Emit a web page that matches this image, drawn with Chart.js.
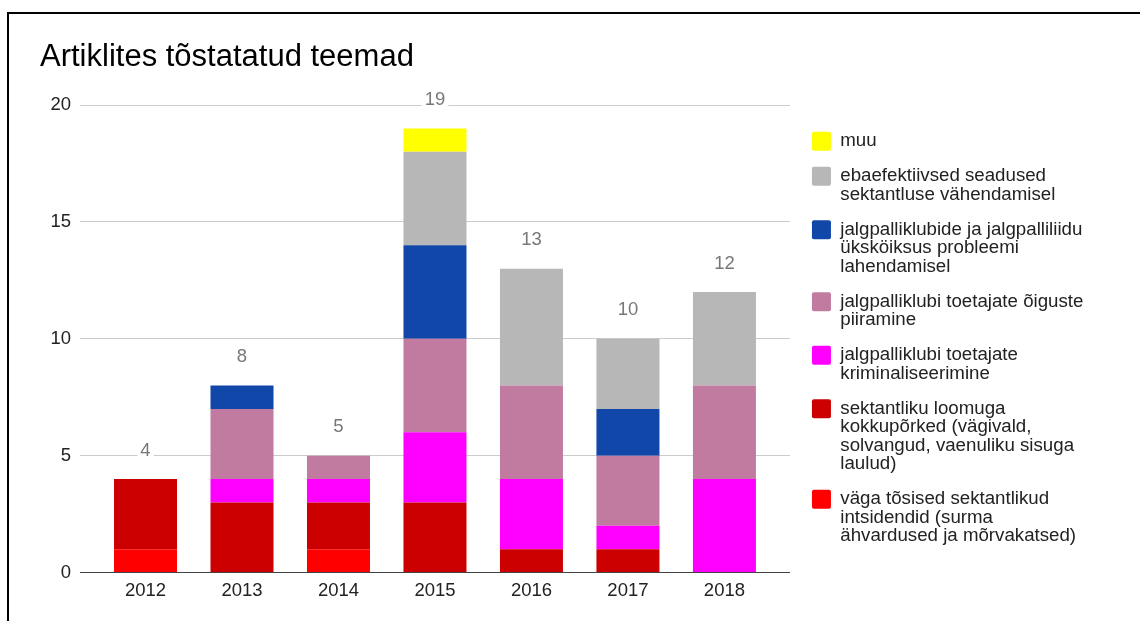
<!DOCTYPE html>
<html>
<head>
<meta charset="utf-8">
<title>Artiklites tõstatatud teemad</title>
<script src="https://cdn.jsdelivr.net/npm/chart.js@4.4.1/dist/chart.umd.min.js"></script>
<style>
  html, body { margin: 0; padding: 0; background: #fff; overflow: hidden; }
  #wrap { position: relative; width: 1140px; height: 621px; }
  #frame {
    position: absolute; left: 7px; top: 12px; width: 1200px; height: 700px;
    border-left: 2px solid #000; border-top: 2px solid #000; pointer-events: none;
  }
</style>
</head>
<body>
<div id="wrap">
  <canvas id="topicChart" width="1140" height="621"></canvas>
  <div id="frame"></div>
</div>
<script>
// DATA
const years = ["2012", "2013", "2014", "2015", "2016", "2017", "2018"];
const verySerious      = [1, 0, 1, 0, 0, 0, 0];
const sectarianClashes = [3, 3, 2, 3, 1, 1, 0];
const criminalising    = [0, 1, 1, 3, 3, 1, 4];
const rightsLimited    = [0, 3, 1, 4, 4, 3, 4];
const clubsIndifferent = [0, 1, 0, 4, 0, 2, 0];
const badLaws          = [0, 0, 0, 4, 5, 3, 4];
const other            = [0, 0, 0, 1, 0, 0, 0];
const yTicks = [0, 5, 10, 15, 20];

// legend texts, split the same way as the original
const labelVerySerious = ["väga tõsised sektantlikud", "intsidendid (surma", "ähvardused ja mõrvakatsed)"];
const labelClashes = ["sektantliku loomuga", "kokkupõrked (vägivald,", "solvangud, vaenuliku sisuga", "laulud)"];
const labelCriminalising = ["jalgpalliklubi toetajate", "kriminaliseerimine"];
const labelRights = ["jalgpalliklubi toetajate õiguste", "piiramine"];
const labelClubs = ["jalgpalliklubide ja jalgpalliliidu", "üksköiksus probleemi", "lahendamisel"];
const labelLaws = ["ebaefektiivsed seadused", "sektantluse vähendamisel"];
const labelOther = ["muu"];

// stack order: first one is at the bottom
const series = [
  { label: labelVerySerious, values: verySerious, color: "#ff0000" },
  { label: labelClashes, values: sectarianClashes, color: "#cc0000" },
  { label: labelCriminalising, values: criminalising, color: "#ff00ff" },
  { label: labelRights, values: rightsLimited, color: "#c27ba0" },
  { label: labelClubs, values: clubsIndifferent, color: "#1047a9" },
  { label: labelLaws, values: badLaws, color: "#b7b7b7" },
  { label: labelOther, values: other, color: "#ffff00" }
];

Chart.defaults.font.family = "'Liberation Sans', Arial, sans-serif";

// TOTALS ABOVE BARS
const totalsPlugin = {
  id: "totals",
  afterDatasetsDraw(chart) {
    const ctx = chart.ctx;
    const yScale = chart.scales.y;
    const bars = chart.getDatasetMeta(0).data;
    ctx.save();
    ctx.font = "18.5px 'Liberation Sans', Arial, sans-serif";
    ctx.textAlign = "center";
    ctx.textBaseline = "middle";
    years.forEach((yr, i) => {
      const total = series.reduce((s, ser) => s + ser.values[i], 0);
      const txt = String(total);
      const x = bars[i].x;
      const y = yScale.getPixelForValue(total) - 28.5;
      const w = ctx.measureText(txt).width;
      ctx.fillStyle = "#fff";
      ctx.fillRect(x - w / 2 - 3, y - 10, w + 6, 20);
      ctx.fillStyle = "#777";
      ctx.fillText(txt, x, y);
    });
    ctx.restore();
  }
};

new Chart(document.getElementById("topicChart"), {
  type: "bar",
  data: {
    datasets: series.map(s => ({
      label: s.label,
      data: s.values.map((v, i) => ({ x: i, y: v })),
      backgroundColor: s.color,
      borderWidth: 0,
      barPercentage: 0.653,
      categoryPercentage: 1
    }))
  },
  options: {
    responsive: false,
    animation: false,
    devicePixelRatio: 1,
    layout: { padding: { left: 40, right: 46.6, top: 0, bottom: 11.3 } },
    plugins: {
      title: {
        display: true,
        text: "Artiklites tõstatatud teemad",
        align: "start",
        color: "#000",
        font: { size: 31, weight: "normal", lineHeight: 1.2 },
        padding: { top: 38.7, bottom: 29.1 }
      },
      legend: {
        position: "right",
        align: "start",
        reverse: true,
        maxWidth: 400,
        title: {
          display: true,
          text: " ",
          font: { size: 12, lineHeight: 1.2 },
          padding: { top: 0, bottom: 100.8 }
        },
        labels: {
          boxWidth: 19,
          boxHeight: 19,
          padding: 16.5,
          color: "#222",
          font: { size: 18.7, lineHeight: "18.5px" },
          useBorderRadius: true,
          borderRadius: 2
        }
      },
      tooltip: { enabled: false }
    },
    scales: {
      x: {
        type: "linear",
        stacked: true,
        offset: false,
        min: -0.679,
        max: 6.679,
        grid: { display: false, drawTicks: false, offset: false },
        border: { display: false },
        afterBuildTicks: s => { s.ticks = years.map((y, i) => ({ value: i })); },
        ticks: {
          padding: 7.5,
          color: "#222",
          font: { size: 18.5 },
          autoSkip: false,
          maxRotation: 0,
          callback: v => years[v]
        }
      },
      y: {
        stacked: true,
        min: 0,
        max: 20,
        afterFit: s => { s.width = 40; },
        afterBuildTicks: s => { s.ticks = yTicks.map(v => ({ value: v })); },
        grid: {
          drawTicks: false,
          color: c => (c.tick && c.tick.value === 0 ? "#444" : "#ccc")
        },
        border: { display: false },
        ticks: { padding: 9, color: "#222", font: { size: 18.5 } }
      },
      // empty axis, only keeps the plot clear of the legend
      pad: {
        type: "linear",
        position: "right",
        grid: { display: false, drawTicks: false },
        border: { display: false },
        ticks: { display: false },
        afterFit: s => { s.width = 5.5; }
      }
    }
  },
  plugins: [totalsPlugin]
});
</script>
</body>
</html>
